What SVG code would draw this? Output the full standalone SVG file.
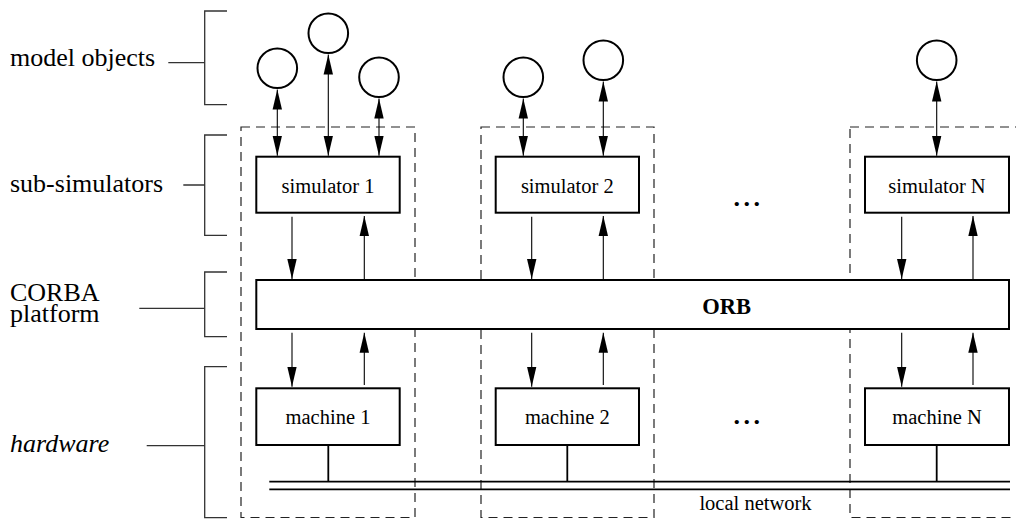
<svg xmlns="http://www.w3.org/2000/svg" width="1016" height="520" viewBox="0 0 1016 520">
<defs>
<marker id="ah" markerUnits="userSpaceOnUse" markerWidth="20" markerHeight="10" viewBox="0 0 20 10" refX="20" refY="5" orient="auto-start-reverse">
<path d="M0,0.3 L20,5 L0,9.7 z" fill="#000"/>
</marker>
<style>
text{font-family:'Liberation Serif','Times New Roman',Times,'DejaVu Serif',serif;fill:#000}
.lbl{font-size:26px}
.bt{font-size:20.5px;text-anchor:middle}
.box{fill:#fff;stroke:#000;stroke-width:2}
.obj{fill:#fff;stroke:#000;stroke-width:2}
.dash{fill:none;stroke:#222;stroke-width:1.2;stroke-dasharray:9 6}
.br{fill:none;stroke:#333;stroke-width:1.3}
.ar{stroke:#000;stroke-width:1.1;fill:none}
.net{stroke:#000;stroke-width:1.8;fill:none}
.dots{font-size:26px;font-weight:bold;letter-spacing:3.5px;text-anchor:middle}
.orb{font-size:22.5px;font-weight:bold;text-anchor:middle}
</style>
</defs>
<rect width="1016" height="520" fill="#fff"/>

<g id="labels">
<text class="lbl" x="10" y="66">model objects</text>
<text class="lbl" x="10" y="191.5">sub-simulators</text>
<text class="lbl" x="10" y="301">CORBA</text>
<text class="lbl" x="10" y="322.3">platform</text>
<text class="lbl" x="10" y="451.5" font-style="italic">hardware</text>
</g>

<g id="brackets">
<path class="br" d="M227,11 H204.7 V104.7 H227 M168.3,62.7 H204.7"/>
<path class="br" d="M227,135 H204.7 V235.3 H227 M183.3,185 H204.7"/>
<path class="br" d="M227,272 H204.7 V336.7 H227 M139.3,308.3 H204.7"/>
<path class="br" d="M227,366.7 H204.7 V517.7 H227 M146.7,445.7 H204.7"/>
</g>

<g id="hosts">
<rect class="dash" x="241" y="127" width="174" height="390.5"/>
<rect class="dash" x="481" y="127" width="173" height="390.5"/>
<rect class="dash" x="850" y="127" width="200" height="390.5"/>
</g>

<g id="network">
<path class="net" d="M269.3,481.7 H1010 M269.3,489.3 H1010"/>
<path class="net" d="M328.3,446 V481.7 M567.3,446 V481.7 M936.7,446 V481.7"/>
<text class="bt" x="755.5" y="510">local network</text>
</g>

<g id="connectors">
<line class="ar" x1="277.3" y1="89.5" x2="277.3" y2="155.7" marker-start="url(#ah)" marker-end="url(#ah)"/>
<line class="ar" x1="328.3" y1="54.5" x2="328.3" y2="155.7" marker-start="url(#ah)" marker-end="url(#ah)"/>
<line class="ar" x1="379" y1="98.5" x2="379" y2="155.7" marker-start="url(#ah)" marker-end="url(#ah)"/>
<line class="ar" x1="523.3" y1="98.5" x2="523.3" y2="155.7" marker-start="url(#ah)" marker-end="url(#ah)"/>
<line class="ar" x1="603.3" y1="81.5" x2="603.3" y2="155.7" marker-start="url(#ah)" marker-end="url(#ah)"/>
<line class="ar" x1="936.7" y1="81.5" x2="936.7" y2="155.7" marker-start="url(#ah)" marker-end="url(#ah)"/>

<line class="ar" x1="292" y1="216.7" x2="292" y2="279" marker-end="url(#ah)"/>
<line class="ar" x1="364.3" y1="279" x2="364.3" y2="216" marker-end="url(#ah)"/>
<line class="ar" x1="531.7" y1="216.7" x2="531.7" y2="279" marker-end="url(#ah)"/>
<line class="ar" x1="603.3" y1="279" x2="603.3" y2="216" marker-end="url(#ah)"/>
<line class="ar" x1="901.7" y1="216.7" x2="901.7" y2="279" marker-end="url(#ah)"/>
<line class="ar" x1="973" y1="279" x2="973" y2="216" marker-end="url(#ah)"/>

<line class="ar" x1="292" y1="332.7" x2="292" y2="386.7" marker-end="url(#ah)"/>
<line class="ar" x1="364.3" y1="385" x2="364.3" y2="332.7" marker-end="url(#ah)"/>
<line class="ar" x1="531.7" y1="332.7" x2="531.7" y2="386.7" marker-end="url(#ah)"/>
<line class="ar" x1="603.3" y1="385" x2="603.3" y2="332.7" marker-end="url(#ah)"/>
<line class="ar" x1="901.7" y1="332.7" x2="901.7" y2="386.7" marker-end="url(#ah)"/>
<line class="ar" x1="973" y1="385" x2="973" y2="332.7" marker-end="url(#ah)"/>
</g>

<g id="obj1"><circle class="obj" cx="277.3" cy="68.3" r="19.8"/></g>
<g id="obj2"><circle class="obj" cx="328.3" cy="33.3" r="19.8"/></g>
<g id="obj3"><circle class="obj" cx="379" cy="77.3" r="19.8"/></g>
<g id="obj4"><circle class="obj" cx="523.3" cy="77.3" r="19.8"/></g>
<g id="obj5"><circle class="obj" cx="603.3" cy="60.3" r="19.8"/></g>
<g id="obj6"><circle class="obj" cx="936.7" cy="60.3" r="19.8"/></g>

<g id="sim1"><rect class="box" x="256.3" y="156.7" width="143.4" height="56"/><text class="bt" x="328" y="193.3">simulator 1</text></g>
<g id="sim2"><rect class="box" x="495.7" y="156.7" width="143.3" height="56"/><text class="bt" x="567.3" y="193.3">simulator 2</text></g>
<g id="simN"><rect class="box" x="865" y="156.7" width="144" height="56"/><text class="bt" x="937" y="193.3">simulator N</text></g>
<text class="dots" x="748.5" y="205.8">...</text>

<g id="orb"><rect class="box" x="256.3" y="280" width="752.7" height="49"/><text class="orb" x="726.7" y="314.3">ORB</text></g>

<g id="m1"><rect class="box" x="256.3" y="388.3" width="143.4" height="56.7"/><text class="bt" x="328" y="424.3">machine 1</text></g>
<g id="m2"><rect class="box" x="495.7" y="388.3" width="143.3" height="56.7"/><text class="bt" x="567.3" y="424.3">machine 2</text></g>
<g id="mN"><rect class="box" x="865" y="388.3" width="144" height="56.7"/><text class="bt" x="937" y="424.3">machine N</text></g>
<text class="dots" x="748.5" y="424">...</text>
</svg>
